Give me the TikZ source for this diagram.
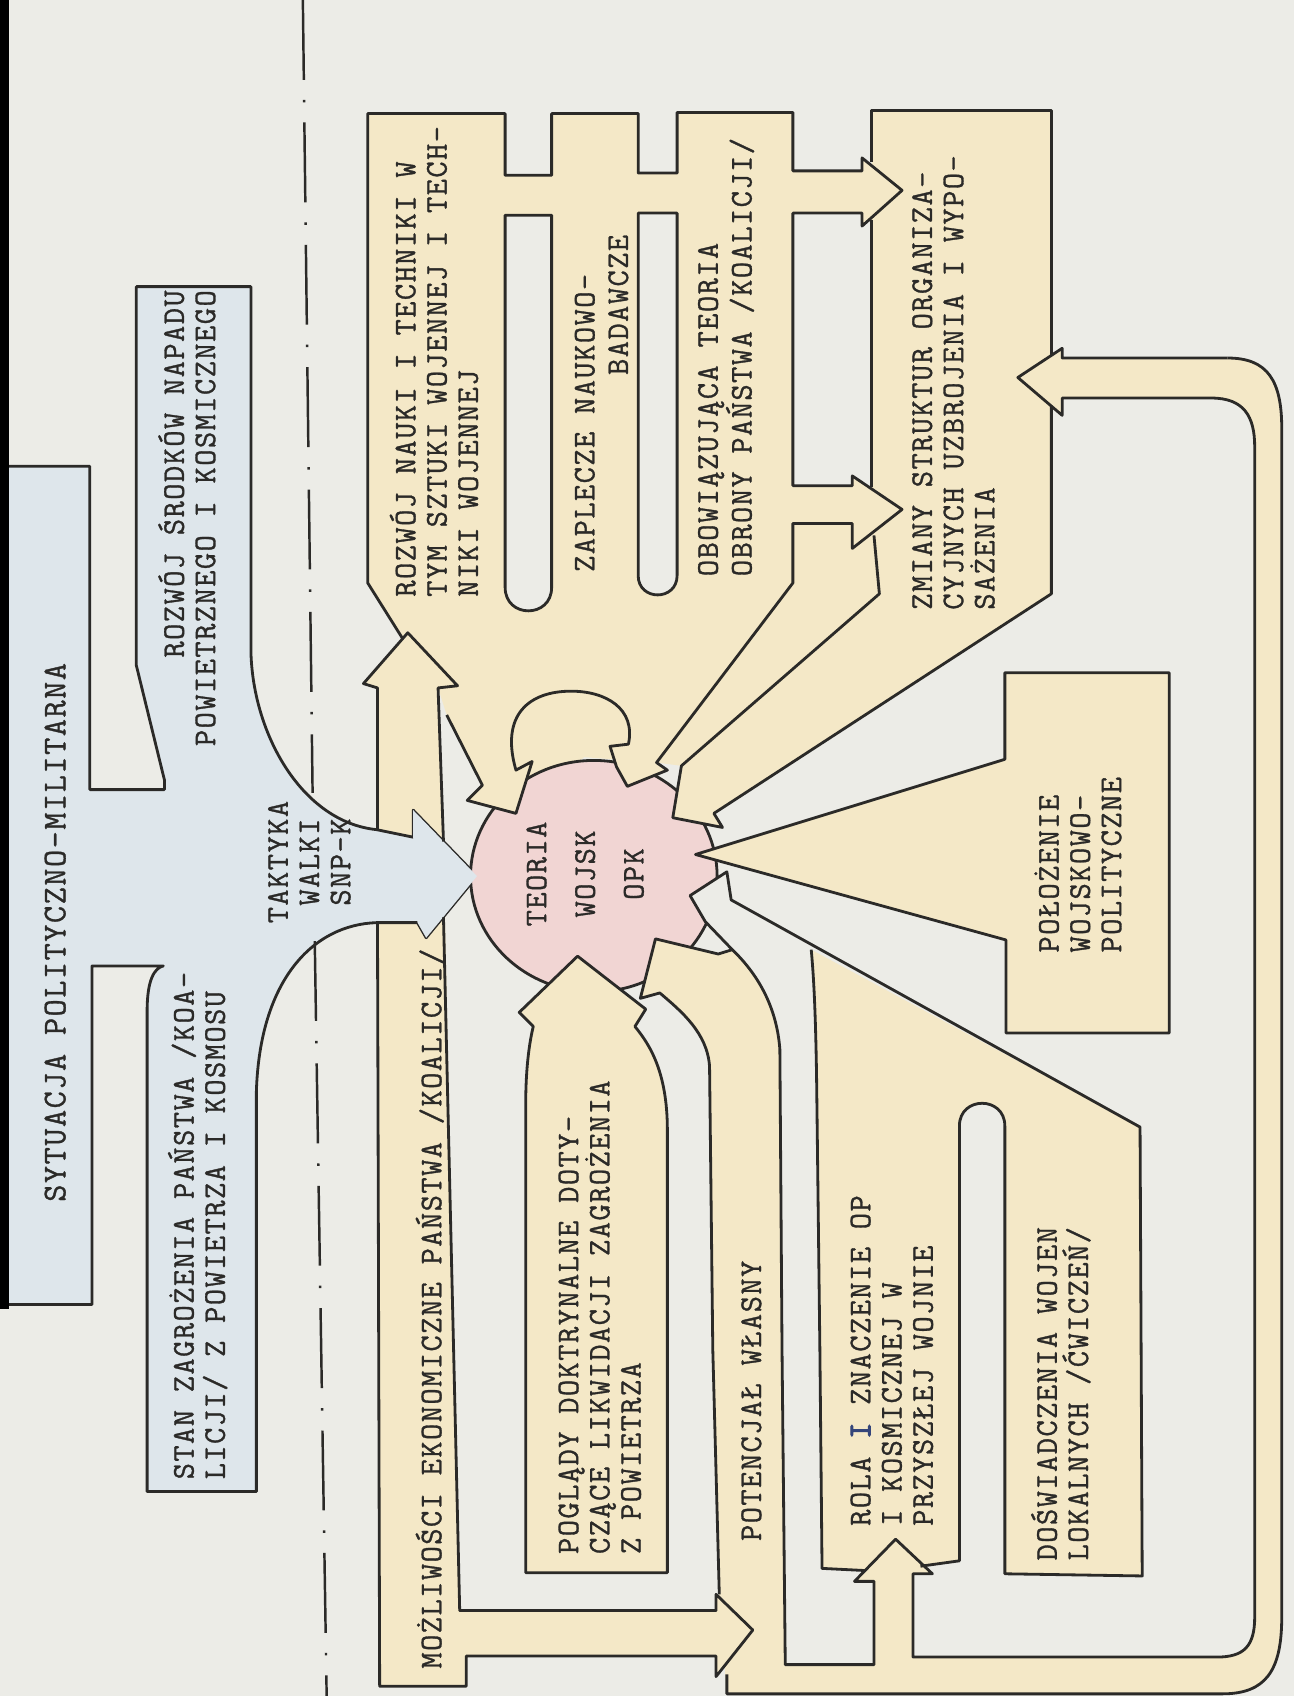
\documentclass[tikz,border=0pt]{standalone}
\usepackage{fontspec}
\newfontfamily\tw{Latin Modern Mono}[LetterSpace=4.5,FakeBold=1]
\newfontfamily\twb{Latin Modern Mono}[LetterSpace=4.5,FakeBold=3]
\definecolor{paper}{HTML}{ECECE7}
\definecolor{yel}{HTML}{F4E8C7}
\definecolor{blu}{HTML}{DEE6EB}
\definecolor{pnk}{HTML}{F1D5D3}
\definecolor{inkc}{HTML}{2B2A28}
\definecolor{inkblue}{HTML}{34457A}
\begin{document}
\begin{tikzpicture}[x=0.021648cm,y=-0.021648cm,
  ink/.style={draw=inkc,line width=1.6pt,line join=round},
  typed/.style={font=\tw\fontsize{18}{17.8}\selectfont,text=inkc,inner sep=0pt,rotate=90,align=left,anchor=north west},
  centred/.style={typed,align=center,anchor=center}]
\useasboundingbox (0,0) rectangle (1196,1568);
\fill[paper] (0,0) rectangle (1196,1568);

\fill[yel] (340,105) -- (467,105) -- (467,162) -- (510,162) -- (510,105) -- (590,105) -- (590,160) -- (626,160) -- (626,104) -- (733,104) -- (733,158) -- (797,158) -- (797,146) -- (834,176) -- (797,209) -- (797,197) -- (733,197) -- (733,449) -- (788,449) -- (788,440) -- (834,471) -- (788,507) -- (788,484) -- (733,484) -- (733,539) -- (607,705) -- (540,700) -- (477,752) -- (446,726) -- (413,661) -- (405,636) -- (423,634) -- (377,585) -- (372,590) -- (340,539) -- cycle;
\fill[yel] (806,102) -- (972,102) -- (972,549) -- (660,752) -- (668,765) -- (622,756) -- (630,708) -- (607,705) -- (733,539) -- (733,484) -- (788,484) -- (806,496) -- cycle;
\fill[yel] (760,1450) -- (758,1248) -- (755,1000) .. controls (754,930) and (752,900) .. (750,878) -- (1054,1042) -- (1056,1457) -- (929,1455) -- (887,1443) -- (851,1448) -- (828,1423) -- (800,1452) -- cycle;
\fill[paper] (887,1470) -- (887,1041) .. controls (887,1013) and (929,1013) .. (929,1041) -- (929,1470) -- cycle;
\fill[yel] (982,322) -- (941,349) -- (982,384) -- (982,368) -- (1120,368) .. controls (1150,368) and (1160,385) .. (1160,413) -- (1160,1495) .. controls (1160,1522) and (1150,1532) .. (1125,1532) -- (844,1532) -- (844,1455) -- (862,1455) -- (828,1423) -- (790,1462) -- (808,1462) -- (808,1539) -- (672,1539) -- (672,1566) -- (1130,1566) .. controls (1170,1566) and (1185,1545) .. (1185,1495) -- (1185,396) .. controls (1185,352) and (1172,331) .. (1135,331) -- (982,331) -- cycle;
\fill[yel] (610,918) .. controls (630,935) and (654,955) .. (656,986) -- (659,1248) -- (665,1480) -- (672,1566) -- (726,1566) -- (723,1248) -- (721,970) .. controls (718,930) and (700,900) .. (677,878) -- (664,882) -- (606,868) -- (592,923) -- cycle;
\fill[yel] (486,1454) -- (486,1023) .. controls (486,995) and (488,970) .. (493,949) -- (480,936) -- (534,884) -- (597,933) -- (587,949) .. controls (600,965) and (617,990) .. (617,1045) -- (617,1454) -- cycle;
\fill[yel] (349,636) -- (336,632) -- (377,585) -- (423,634) -- (405,636) -- (410,778) -- (425,1489) -- (662,1489) -- (662,1474) -- (696,1507) -- (662,1550) -- (662,1531) -- (431,1531) -- (431,1559) -- (351,1559) -- cycle;
\fill[paper] (467,199) -- (467,543) .. controls (467,572) and (510,572) .. (510,543) -- (510,199) -- cycle;
\fill[paper] (590,197) -- (590,532) .. controls (590,556) and (626,556) .. (626,532) -- (626,197) -- cycle;

\filldraw[ink,fill=blu] (6,431) -- (83,431) -- (83,730) -- (152,730) -- (152,721) -- (126,615) -- (126,265) -- (232,265) -- (232,603) .. controls (234,680) and (280,760) .. (348,767) -- (382,774) -- (382,749) -- (441,810) -- (394,867) -- (386,853) -- (348,853) .. controls (290,855) and (240,905) .. (237,1010) -- (237,1379) -- (136,1379) -- (136,935) .. controls (136,905) and (143,895) .. (151,893) -- (85,893) -- (85,1206) -- (6,1206) -- cycle;
\fill[black] (0,0) rectangle (8,1210);
\draw[inkc,line width=1.4pt,dash pattern=on 1.6cm off 0.4cm on 0.05cm off 0.4cm] (280,0) -- (289,733);
\draw[inkc,line width=1.4pt,dash pattern=on 1.6cm off 0.4cm on 0.05cm off 0.4cm] (291,870) -- (302,1568);

\filldraw[ink,fill=pnk] (549,810) ellipse [x radius=2.468cm, y radius=2.316cm];
\fill[yel] (446,726) -- (432,740) -- (477,752) -- (492,704) -- (477,712) -- cycle;
\fill[yel] (581,688) -- (564,690) -- (570,709) -- (580,727) -- (617,712) -- (607,705) -- cycle;
\fill[yel] (630,708) -- (622,756) -- (668,765) -- (660,752) -- cycle;
\fill[yel] (929,622) -- (1081,622) -- (1081,955) -- (930,955) -- (930,869) -- (643,790) -- (929,702) -- cycle;
\fill[paper] (677,878) -- (652,852) -- (638,828) -- (672,806) -- (676,832) -- cycle;
\fill[yel] (610,918) -- (592,923) -- (606,868) -- (664,882) -- (677,878) -- cycle;
\fill[yel] (493,949) -- (480,936) -- (534,884) -- (597,933) -- (587,949) -- cycle;
\fill[blu] (382,774) -- (382,749) -- (441,810) -- (394,867) -- (386,853) -- cycle;

\draw[ink] (349,767) -- (349,636) -- (336,632) -- (377,585) -- (423,634) -- (405,636) -- (410,778);
\draw[ink] (349,853) -- (351,1559) -- (431,1559) -- (431,1531) -- (662,1531) -- (662,1550) -- (696,1507) -- (662,1474) -- (662,1489) -- (425,1489) -- (410,848);
\draw[ink] (372,590) -- (340,539) -- (340,105) -- (467,105) -- (467,162) -- (510,162) -- (510,105) -- (590,105) -- (590,160) -- (626,160) -- (626,104) -- (733,104) -- (733,158) -- (797,158) -- (797,146) -- (834,176) -- (797,209) -- (797,197) -- (733,197) -- (733,449) -- (788,449) -- (788,440) -- (834,471) -- (788,507) -- (788,484) -- (733,484) -- (733,539) -- (607,705) -- (617,712) -- (580,727) -- (570,709) -- (564,690) -- (581,688) .. controls (588,655) and (560,639) .. (528,639) .. controls (490,639) and (462,660) .. (477,712) -- (492,704) -- (477,752) -- (432,740) -- (446,726) -- (413,661);
\draw[ink] (467,199) -- (467,543) .. controls (467,572) and (510,572) .. (510,543) -- (510,199) -- cycle;
\draw[ink] (590,197) -- (590,532) .. controls (590,556) and (626,556) .. (626,532) -- (626,197) -- cycle;
\draw[ink] (806,150) -- (806,102) -- (972,102) -- (972,329);
\draw[ink] (806,203) -- (806,450);
\draw[ink] (972,376) -- (972,549) -- (660,752) -- (668,765) -- (622,756) -- (630,708) -- (813,549) -- (808,495);
\draw[ink] (1135,331) -- (982,331) -- (982,322) -- (941,349) -- (982,384) -- (982,368) -- (1120,368) .. controls (1150,368) and (1160,385) .. (1160,413) -- (1160,1495) .. controls (1160,1522) and (1150,1532) .. (1125,1532) -- (844,1532) -- (844,1455) -- (862,1455) -- (828,1423) -- (790,1462) -- (808,1462) -- (808,1539) -- (726,1539) -- (723,1248) -- (721,970) .. controls (718,930) and (700,900) .. (677,878) -- (652,852) -- (638,828) -- (672,806) -- (676,832) -- (1054,1042) -- (1056,1457) -- (929,1455) -- (929,1041) .. controls (929,1013) and (887,1013) .. (887,1041) -- (887,1443) -- (851,1448);
\draw[ink] (1135,331) .. controls (1172,331) and (1185,352) .. (1185,396) -- (1185,1495) .. controls (1185,1545) and (1170,1566) .. (1130,1566) -- (672,1566) -- (672,1548);
\draw[ink] (800,1452) -- (760,1450) -- (758,1248) -- (755,1000) .. controls (754,930) and (752,900) .. (750,878);
\draw[ink] (665,1474) -- (659,1248) -- (656,986) .. controls (654,955) and (630,935) .. (610,918) -- (592,923) -- (606,868) -- (664,882) -- (677,878);
\draw[ink] (617,1045) .. controls (617,990) and (600,965) .. (587,949) -- (597,933) -- (534,884) -- (480,936) -- (493,949) .. controls (488,970) and (486,995) .. (486,1023) -- (486,1454) -- (617,1454) -- cycle;
\draw[ink] (929,702) -- (929,622) -- (1081,622) -- (1081,955) -- (930,955) -- (930,869) -- (643,790) -- cycle;

\node[centred,font=\tw\fontsize{19}{17.8}\selectfont] (sytuacja) at (51,862) {SYTUACJA POLITYCZNO-MILITARNA};
\node[typed,align=right,anchor=north east] (srodki) at (146,268) {ROZWÓJ ŚRODKÓW NAPADU\\POWIETRZNEGO I KOSMICZNEGO};
\node[typed] (zagrozenie) at (155,1368) {STAN ZAGROŻENIA PAŃSTWA /KOA-\\LICJI/ Z POWIETRZA I KOSMOSU};
\node[centred] (taktyka) at (286,797) {TAKTYKA\\WALKI\\SNP-K};
\node[typed] (mozliwosci) at (384,1543) {MOŻLIWOŚCI EKONOMICZNE PAŃSTWA /KOALICJI/};
\node[typed] (nauka) at (360,552) {ROZWÓJ NAUKI I TECHNIKI W\\TYM SZTUKI WOJENNEJ I TECH-\\NIKI WOJENNEJ};
\node[typed] (zaplecze) at (531,529) {ZAPLECZE NAUKOWO-};
\node[typed] (badawcze) at (562,347) {BADAWCZE};
\node[typed] (teoriaobr) at (645,533) {OBOWIĄZUJĄCA TEORIA\\OBRONY PAŃSTWA /KOALICJI/};
\node[typed] (zmiany) at (843,564) {ZMIANY STRUKTUR ORGANIZA-\\CYJNYCH UZBROJENIA I WYPO-\\SAŻENIA};
\node[centred,font=\tw\fontsize{18}{27.7}\selectfont] (teoria) at (541,808) {TEORIA\\WOJSK\\OPK};
\node[typed] (polozenie) at (956,881) {POŁOŻENIE\\WOJSKOWO-\\POLITYCZNE};
\node[typed] (poglady) at (516,1437) {POGLĄDY DOKTRYNALNE DOTY-\\CZĄCE LIKWIDACJI ZAGROŻENIA\\Z POWIETRZA};
\node[typed] (potencjal) at (685,1425) {POTENCJAŁ WŁASNY};
\node[typed] (rola) at (786,1411) {ROLA {\twb\color{inkblue}I} ZNACZENIE OP\\I KOSMICZNEJ W\\PRZYSZŁEJ WOJNIE};
\node[typed] (doswiadczenia) at (953,1443) {DOŚWIADCZENIA WOJEN\\LOKALNYCH /ĆWICZEŃ/};
\end{tikzpicture}
\end{document}
